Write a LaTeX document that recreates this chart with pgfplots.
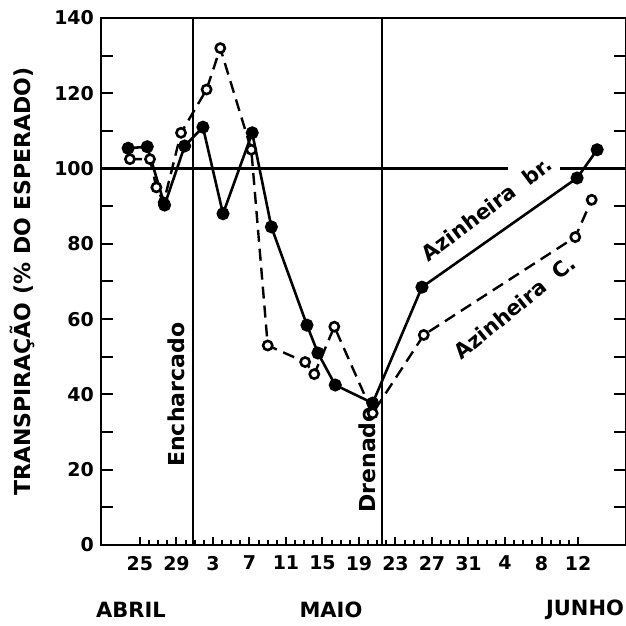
\documentclass[border=0pt]{standalone}
\usepackage{fontspec}
\setmainfont{DejaVu Sans}
\usepackage{pgfplots}
\pgfplotsset{compat=1.18}
\begin{document}
\begin{tikzpicture}
\begin{axis}[
  scale only axis, width=262.5pt, height=263.5pt,
  xmin=20.73, xmax=78.26, ymin=0, ymax=140,
  axis line style={line width=1.4pt},
  tick align=inside,
  major tick length=3.8pt, minor tick length=2.6pt,
  tick style={line width=1pt, black},
  xtick={25,29,33,37,41,45,49,53,57,61,65,69,73},
  xticklabels={25,29,3,7,11,15,19,23,27,31,4,8,12},
  minor x tick num=3,
  xtick pos=bottom,
  ytick={0,20,...,140},
  extra y ticks={0,10,...,140},
  extra y tick labels={},
  extra y tick style={major tick length=6pt},
  ytick pos=both,
  ticklabel style={font=\bfseries\fontsize{9.5}{10}\selectfont},
  /pgf/number format/assume math mode=true,
  xticklabel style={yshift=-2pt},
  clip=false,
]
% reference lines
\addplot[line width=1pt] coordinates {(30.8,0) (30.8,140)};
\addplot[line width=1pt] coordinates {(51.5,0) (51.5,140)};
\addplot[line width=1.2pt] coordinates {(20.73,100) (65.3,100)};
\addplot[line width=1.2pt] coordinates {(71.0,100) (78.26,100)};
% Azinheira C. (dashed, open)
\addplot[line width=1.2pt, dash pattern=on 6pt off 3.5pt, mark=*, mark size=2.3pt,
  mark options={solid, fill=white, draw=black, line width=1.3pt}] coordinates {
(23.9,102.5) (26.1,102.5) (26.8,95) (27.6,91) (29.5,109.5) (32.3,121) (33.8,132)
(37.2,105) (39.0,53) (43.1,48.6) (44.1,45.4) (46.3,58) (50.5,35) (56.1,55.8)
(72.7,81.8) (74.5,91.7)};
% Azinheira br. (solid, filled)
\addplot[line width=1.3pt, mark=*, mark size=2.6pt, mark options={fill=black}] coordinates {
(23.7,105.4) (25.8,105.8) (27.7,90.3) (29.9,106) (31.9,111) (34.1,88) (37.3,109.5)
(39.4,84.5) (43.3,58.4) (44.5,51) (46.4,42.5) (50.5,37.7) (55.9,68.5) (72.9,97.5) (75.1,105)};
% labels
\node[rotate=90, font=\bfseries\fontsize{11}{12}\selectfont] at (axis cs:28.95,39.9) {Encharcado};
\node[rotate=90, font=\bfseries\fontsize{11}{12}\selectfont] at (axis cs:49.95,22.6) {Drenado};
\node[rotate=37, font=\bfseries\fontsize{10.5}{11}\selectfont] at (axis cs:63.0,89.3) {Azinheira\ \ br.};
\node[rotate=39, font=\bfseries\fontsize{10.5}{11}\selectfont] at (axis cs:66.1,63.2) {Azinheira\ \ C.};
\node[rotate=90, font=\bfseries\fontsize{11}{12}\selectfont] at (axis description cs:-0.1505,0.5) {TRANSPIRAÇÃO (\% DO ESPERADO)};
\node[font=\bfseries\fontsize{10.5}{11}\selectfont] at (axis description cs:0.057,-0.123) {ABRIL};
\node[font=\bfseries\fontsize{10.5}{11}\selectfont] at (axis description cs:0.438,-0.123) {MAIO};
\node[font=\bfseries\fontsize{10.5}{11}\selectfont] at (axis description cs:0.922,-0.123) {JUNHO};
\end{axis}
\pgfresetboundingbox
\path (-50.5pt,-40.5pt) rectangle (262.5pt,272.5pt);
\end{tikzpicture}
\end{document}
